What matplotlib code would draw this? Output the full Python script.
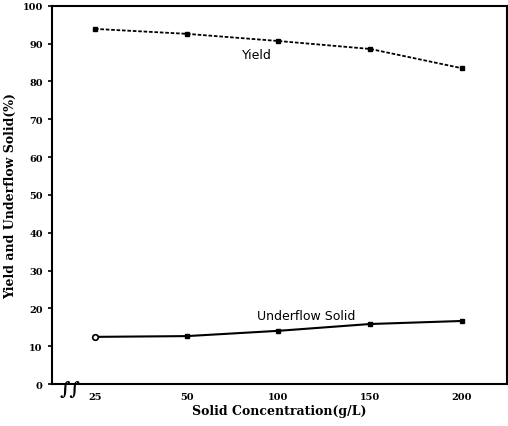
import matplotlib.pyplot as plt

concentrations = ['25', '50', '100', '150', '200']
yield_pct = [93.9, 92.6, 90.7, 88.6, 83.5]
underflow_solid = [12.5, 12.7, 14.1, 15.9, 16.7]
y_ticks = [0, 10, 20, 30, 40, 50, 60, 70, 80, 90, 100]

plt.rcParams['font.family'] = 'DejaVu Serif'

fig = plt.figure(figsize=(5.08, 4.27), dpi=100)
ax = fig.add_axes([0.102, 0.098, 0.896, 0.886])

x = list(range(len(concentrations)))

ax.plot(x, yield_pct, color='black', linestyle=(0, (2, 1)), linewidth=1.3,
        marker='s', markersize=3.2)
ax.plot(x, underflow_solid, color='black', linestyle='-', linewidth=1.5,
        marker='s', markersize=3.2)
# first underflow point is drawn open
ax.plot(x[:1], underflow_solid[:1], linestyle='none', marker='o', markersize=4,
        markerfacecolor='white', markeredgecolor='black', markeredgewidth=1.2)

ax.text(x[2] - 0.4, yield_pct[2] - 4.5, 'Yield', fontsize=9, family='DejaVu Sans')
ax.text(x[2] - 0.23, underflow_solid[2] + 3.2, 'Underflow Solid', fontsize=9,
        family='DejaVu Sans')

ax.set_xlim(-0.47, 4.49)
ax.set_ylim(0, 100)
ax.set_xticks(x)
ax.set_xticklabels(concentrations, fontsize=7, fontweight='bold')
ax.set_yticks(y_ticks)
ax.set_yticklabels([str(v) for v in y_ticks], fontsize=7, fontweight='bold')
ax.tick_params(axis='y', direction='out', length=3, width=1.2)
ax.tick_params(axis='x', length=0, pad=6)

for side in ax.spines.values():
    side.set_linewidth(1.5)

# axis break symbol
ax.text(0.04, -0.012, '\u222b\u222b', transform=ax.transAxes, ha='center', va='center',
        fontsize=13, fontweight='bold')

ax.set_xlabel('Solid Concentration(g/L)', fontsize=9, fontweight='bold', labelpad=2)
ax.set_ylabel('Yield and Underflow Solid(%)', fontsize=9, fontweight='bold', labelpad=4)

fig.savefig('out.png', dpi=100)
